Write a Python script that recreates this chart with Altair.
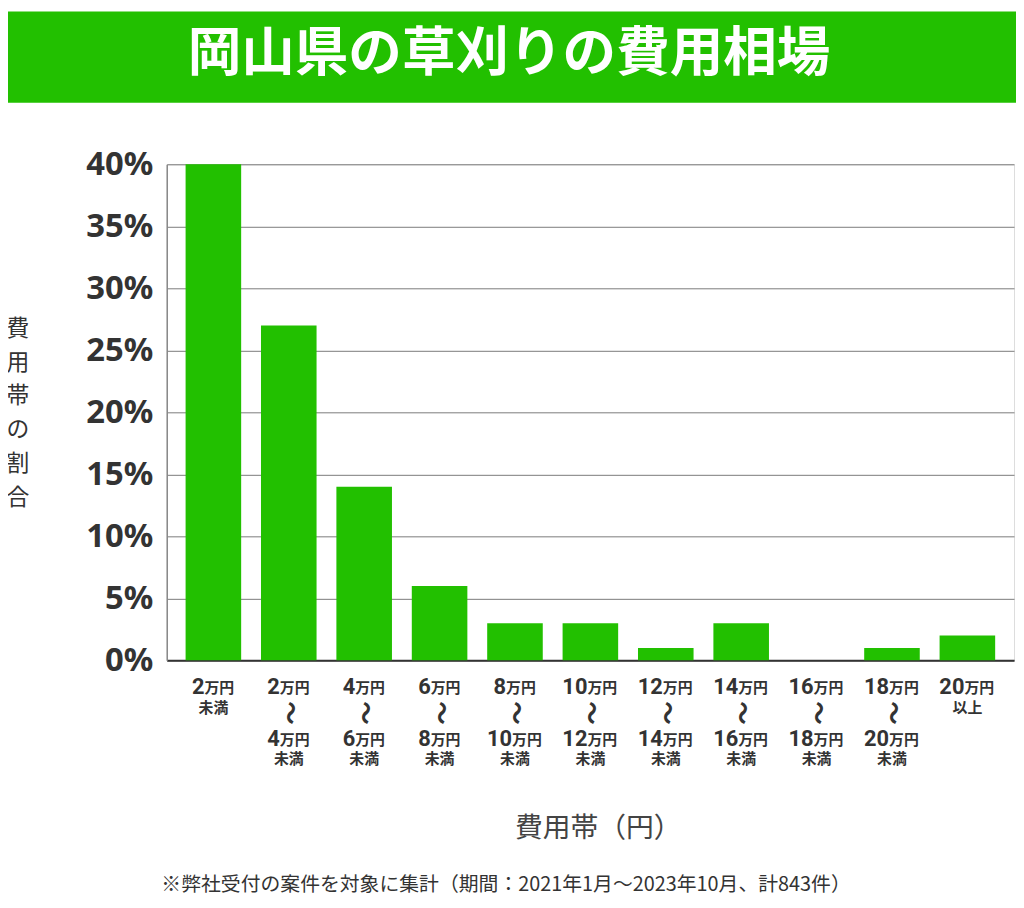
import altair as alt
import pandas as pd

# ---- data ----
categories = ["2万円未満", "2〜4万円未満", "4〜6万円未満", "6〜8万円未満", "8〜10万円未満",
              "10〜12万円未満", "12〜14万円未満", "14〜16万円未満", "16〜18万円未満",
              "18〜20万円未満", "20万円以上"]
shares = [40, 27, 14, 6, 3, 3, 1, 3, 0, 1, 2]
range_from = [None, 2, 4, 6, 8, 10, 12, 14, 16, 18, 20]
range_to = [2, 4, 6, 8, 10, 12, 14, 16, 18, 20, None]
y_ticks = [0, 5, 10, 15, 20, 25, 30, 35, 40]

title_text = "岡山県の草刈りの費用相場"
y_title_chars = ["費", "用", "帯", "の", "割", "合"]
x_title_text = "費用帯（円）"
footnote_text = "※弊社受付の案件を対象に集計（期間：2021年1月～2023年10月、計843件）"

GREEN = "#22c000"
DARK = "#333333"
W, H = 854, 500
JP = "Noto Sans CJK JP"

bars_df = pd.DataFrame({"cat": categories, "share": shares})

# label rows built from range arrays
rows = []
for c, lo, hi in zip(categories, range_from, range_to):
    if lo is None:
        rows.append({"cat": c, "row": "r1", "num": str(hi)})
        rows.append({"cat": c, "row": "short", "txt": "未満"})
    elif hi is None:
        rows.append({"cat": c, "row": "r1", "num": str(lo)})
        rows.append({"cat": c, "row": "short", "txt": "以上"})
    else:
        rows.append({"cat": c, "row": "r1", "num": str(lo)})
        rows.append({"cat": c, "row": "tilde", "txt": "〜"})
        rows.append({"cat": c, "row": "r3", "num": str(hi)})
        rows.append({"cat": c, "row": "r4", "txt": "未満"})
lab = pd.DataFrame(rows)

xenc = alt.X("cat:N", sort=categories,
             scale=alt.Scale(paddingInner=0.263, paddingOuter=0.25),
             axis=alt.Axis(labels=False, ticks=False, title=None, grid=False,
                           domainColor=DARK, domainWidth=2))

bars = alt.Chart(bars_df).mark_bar(color=GREEN).encode(
    x=xenc,
    y=alt.Y("share:Q", scale=alt.Scale(domain=[0, 40], nice=False),
            axis=alt.Axis(values=y_ticks, labelExpr="datum.value + '%'", title=None,
                          labelFont="Noto Sans", labelFontWeight="bold", labelFontSize=33,
                          labelColor=DARK, labelPadding=14, ticks=False,
                          domainColor="#888888", domainWidth=1.5,
                          gridColor="#7a7a7a", gridWidth=1)),
)

layers = [bars]

OFF = {"r1": 26, "short": 47, "tilde": 53, "r3": 78, "r4": 98}
for row in ["r1", "r3"]:
    sub = lab[lab["row"] == row]
    for nd, anchor in [(1, -9), (2, -3)]:
        d = sub[sub["num"].str.len() == nd]
        if len(d) == 0:
            continue
        layers.append(alt.Chart(d).mark_text(
            font="Roboto", fontWeight="bold", fontSize=22, color=DARK,
            align="right", baseline="middle", dx=anchor, dy=1).encode(
            x=alt.X("cat:N", sort=categories), y=alt.value(H + OFF[row]), text="num:N"))
        layers.append(alt.Chart(d).mark_text(
            font=JP, fontWeight="bold", fontSize=15, color=DARK,
            align="left", baseline="middle", dx=anchor, dy=2).encode(
            x=alt.X("cat:N", sort=categories), y=alt.value(H + OFF[row]), text=alt.value("万円")))

for row in ["short", "r4"]:
    d = lab[lab["row"] == row]
    layers.append(alt.Chart(d).mark_text(
        font=JP, fontWeight="bold", fontSize=15, color=DARK,
        align="center", baseline="middle", dy=1).encode(
        x=alt.X("cat:N", sort=categories), y=alt.value(H + OFF[row]), text="txt:N"))

d = lab[lab["row"] == "tilde"]
layers.append(alt.Chart(d).mark_text(
    font=JP, fontWeight="bold", fontSize=24, color=DARK, align="center",
    baseline="middle", angle=90).encode(
    x=alt.X("cat:N", sort=categories), y=alt.value(H + OFF["tilde"]), text="txt:N"))

one = pd.DataFrame({"k": [0]})
banner = alt.Chart(one).mark_rect(color=GREEN).encode(
    x=alt.value(-160), x2=alt.value(W + 2), y=alt.value(-154), y2=alt.value(-62))
banner_text = alt.Chart(one).mark_text(
    font=JP, fontWeight="bold", fontSize=54, color="white",
    align="center", baseline="middle").encode(
    x=alt.value(345), y=alt.value(-110), text=alt.value(title_text))
y_title = alt.Chart(one).mark_text(
    font=JP, fontSize=23, color=DARK, align="center", baseline="middle",
    lineHeight=34, text=y_title_chars).encode(
    x=alt.value(-150), y=alt.value(166))
x_title = alt.Chart(one).mark_text(
    font=JP, fontSize=28, color="#444444", align="center", baseline="middle").encode(
    x=alt.value(435), y=alt.value(670), text=alt.value(x_title_text))
foot = alt.Chart(one).mark_text(
    font=JP, fontSize=20, color=DARK, align="center", baseline="middle").encode(
    x=alt.value(342), y=alt.value(726), text=alt.value(footnote_text))

chart = alt.layer(banner, banner_text, *layers, y_title, x_title, foot).properties(
    width=W, height=H,
    autosize=alt.AutoSizeParams(type="none"),
    padding={"left": 160, "top": 154, "right": 2, "bottom": 236},
).configure_view(stroke=None).configure(background="white")

chart.save("out.html", embed_options={"renderer": "svg", "actions": False})
